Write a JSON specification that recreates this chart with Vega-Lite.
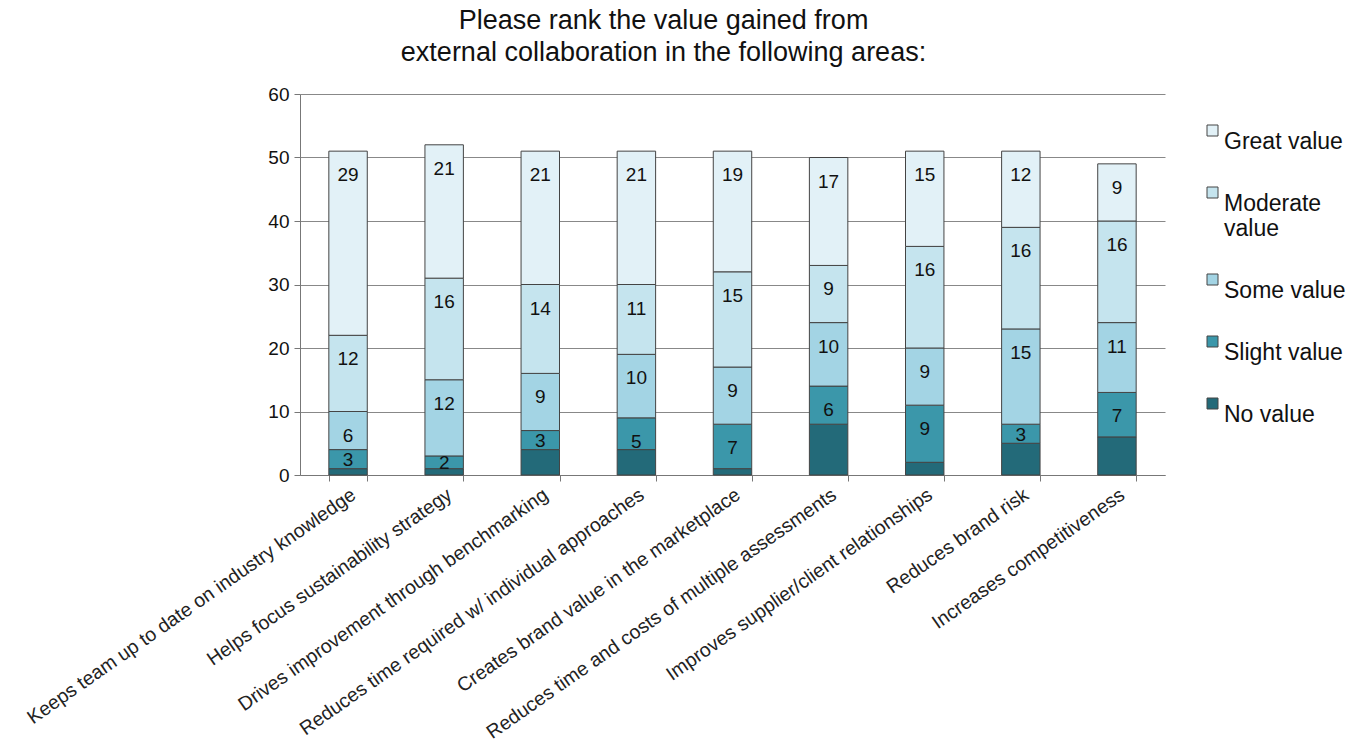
{
  "$schema": "https://vega.github.io/schema/vega-lite/v6.json",
  "autosize": {"type": "none"},
  "width": 865,
  "height": 381,
  "padding": {"left": 300, "top": 94, "right": 195, "bottom": 271},
  "background": "white",
  "config": {
    "font": "Liberation Sans",
    "view": {"stroke": null},
    "axis": {"labelFont": "Liberation Sans", "titleFont": "Liberation Sans"}
  },
  "title": {
    "text": ["Please rank the value gained from", "external collaboration in the following areas:"],
    "fontSize": 27,
    "fontWeight": "normal",
    "color": "#111",
    "anchor": "middle",
    "dx": -69,
    "offset": 18,
    "lineHeight": 32
  },
  "data": {
    "values": [
      {"area": "Keeps team up to date on industry knowledge", "level": "No value", "ord": 1, "value": 1},
      {"area": "Keeps team up to date on industry knowledge", "level": "Slight value", "ord": 2, "value": 3},
      {"area": "Keeps team up to date on industry knowledge", "level": "Some value", "ord": 3, "value": 6},
      {"area": "Keeps team up to date on industry knowledge", "level": "Moderate value", "ord": 4, "value": 12},
      {"area": "Keeps team up to date on industry knowledge", "level": "Great value", "ord": 5, "value": 29},
      {"area": "Helps focus sustainability strategy", "level": "No value", "ord": 1, "value": 1},
      {"area": "Helps focus sustainability strategy", "level": "Slight value", "ord": 2, "value": 2},
      {"area": "Helps focus sustainability strategy", "level": "Some value", "ord": 3, "value": 12},
      {"area": "Helps focus sustainability strategy", "level": "Moderate value", "ord": 4, "value": 16},
      {"area": "Helps focus sustainability strategy", "level": "Great value", "ord": 5, "value": 21},
      {"area": "Drives improvement through benchmarking", "level": "No value", "ord": 1, "value": 4},
      {"area": "Drives improvement through benchmarking", "level": "Slight value", "ord": 2, "value": 3},
      {"area": "Drives improvement through benchmarking", "level": "Some value", "ord": 3, "value": 9},
      {"area": "Drives improvement through benchmarking", "level": "Moderate value", "ord": 4, "value": 14},
      {"area": "Drives improvement through benchmarking", "level": "Great value", "ord": 5, "value": 21},
      {"area": "Reduces time required w/ individual approaches", "level": "No value", "ord": 1, "value": 4},
      {"area": "Reduces time required w/ individual approaches", "level": "Slight value", "ord": 2, "value": 5},
      {"area": "Reduces time required w/ individual approaches", "level": "Some value", "ord": 3, "value": 10},
      {"area": "Reduces time required w/ individual approaches", "level": "Moderate value", "ord": 4, "value": 11},
      {"area": "Reduces time required w/ individual approaches", "level": "Great value", "ord": 5, "value": 21},
      {"area": "Creates brand value in the marketplace", "level": "No value", "ord": 1, "value": 1},
      {"area": "Creates brand value in the marketplace", "level": "Slight value", "ord": 2, "value": 7},
      {"area": "Creates brand value in the marketplace", "level": "Some value", "ord": 3, "value": 9},
      {"area": "Creates brand value in the marketplace", "level": "Moderate value", "ord": 4, "value": 15},
      {"area": "Creates brand value in the marketplace", "level": "Great value", "ord": 5, "value": 19},
      {"area": "Reduces time and costs of multiple assessments", "level": "No value", "ord": 1, "value": 8},
      {"area": "Reduces time and costs of multiple assessments", "level": "Slight value", "ord": 2, "value": 6},
      {"area": "Reduces time and costs of multiple assessments", "level": "Some value", "ord": 3, "value": 10},
      {"area": "Reduces time and costs of multiple assessments", "level": "Moderate value", "ord": 4, "value": 9},
      {"area": "Reduces time and costs of multiple assessments", "level": "Great value", "ord": 5, "value": 17},
      {"area": "Improves supplier/client relationships", "level": "No value", "ord": 1, "value": 2},
      {"area": "Improves supplier/client relationships", "level": "Slight value", "ord": 2, "value": 9},
      {"area": "Improves supplier/client relationships", "level": "Some value", "ord": 3, "value": 9},
      {"area": "Improves supplier/client relationships", "level": "Moderate value", "ord": 4, "value": 16},
      {"area": "Improves supplier/client relationships", "level": "Great value", "ord": 5, "value": 15},
      {"area": "Reduces brand risk", "level": "No value", "ord": 1, "value": 5},
      {"area": "Reduces brand risk", "level": "Slight value", "ord": 2, "value": 3},
      {"area": "Reduces brand risk", "level": "Some value", "ord": 3, "value": 15},
      {"area": "Reduces brand risk", "level": "Moderate value", "ord": 4, "value": 16},
      {"area": "Reduces brand risk", "level": "Great value", "ord": 5, "value": 12},
      {"area": "Increases competitiveness", "level": "No value", "ord": 1, "value": 6},
      {"area": "Increases competitiveness", "level": "Slight value", "ord": 2, "value": 7},
      {"area": "Increases competitiveness", "level": "Some value", "ord": 3, "value": 11},
      {"area": "Increases competitiveness", "level": "Moderate value", "ord": 4, "value": 16},
      {"area": "Increases competitiveness", "level": "Great value", "ord": 5, "value": 9}
    ]
  },
  "transform": [
    {"stack": "value", "groupby": ["area"], "sort": [{"field": "ord", "order": "ascending"}], "as": ["v0", "v1"]},
    {"calculate": "(datum.v0 + datum.v1) / 2", "as": "mid"}
  ],
  "encoding": {
    "x": {
      "field": "area",
      "type": "nominal",
      "sort": null,
      "title": null,
      "scale": {"paddingInner": 0.6, "paddingOuter": 0.3},
      "axis": {
        "labelAngle": -35,
        "labelFontSize": 19.5,
        "labelColor": "#222",
        "labelLimit": 0,
        "labelPadding": 4,
        "labelBaseline": "top",
        "tickBand": "extent",
        "tickSize": 6,
        "tickColor": "#777",
        "domainColor": "#777",
        "grid": false
      }
    }
  },
  "layer": [
    {
      "mark": {"type": "bar", "stroke": "#444", "strokeWidth": 1},
      "encoding": {
        "y": {
          "field": "v0",
          "type": "quantitative",
          "title": null,
          "scale": {"domain": [0, 60], "nice": false},
          "axis": {
            "values": [0, 10, 20, 30, 40, 50, 60],
            "labelFontSize": 19,
            "labelColor": "#111",
            "labelPadding": 5,
            "tickSize": 6,
            "tickColor": "#777",
            "domainColor": "#777",
            "gridColor": "#888",
            "gridWidth": 1
          }
        },
        "y2": {"field": "v1"},
        "color": {
          "field": "level",
          "type": "nominal",
          "scale": {
            "domain": ["Great value", "Moderate value", "Some value", "Slight value", "No value"],
            "range": ["#e2f1f7", "#c5e4ee", "#a3d4e4", "#3b97aa", "#236a79"]
          },
          "legend": {
            "title": null,
            "orient": "none",
            "legendX": 901,
            "legendY": 25,
            "symbolType": "square",
            "symbolSize": 121,
            "symbolStrokeColor": "#444",
            "symbolStrokeWidth": 1,
            "labelFontSize": 23,
            "labelColor": "#111",
            "labelOffset": 0,
            "labelBaseline": "top",
            "labelLimit": 0,
            "rowPadding": 27,
            "labelExpr": "datum.label == 'Moderate value' ? ['Moderate', 'value'] : datum.label"
          }
        }
      }
    },
    {
      "transform": [{"filter": "datum.level != 'No value' && datum.value >= 4"}],
      "mark": {"type": "text", "fontSize": 19, "color": "#111", "baseline": "middle", "dy": 24},
      "encoding": {
        "y": {"field": "v1", "type": "quantitative"},
        "text": {"field": "value", "type": "quantitative"}
      }
    },
    {
      "transform": [{"filter": "datum.level != 'No value' && datum.value < 4"}],
      "mark": {"type": "text", "fontSize": 19, "color": "#111", "baseline": "middle", "dy": 1},
      "encoding": {
        "y": {"field": "mid", "type": "quantitative"},
        "text": {"field": "value", "type": "quantitative"}
      }
    }
  ]
}
